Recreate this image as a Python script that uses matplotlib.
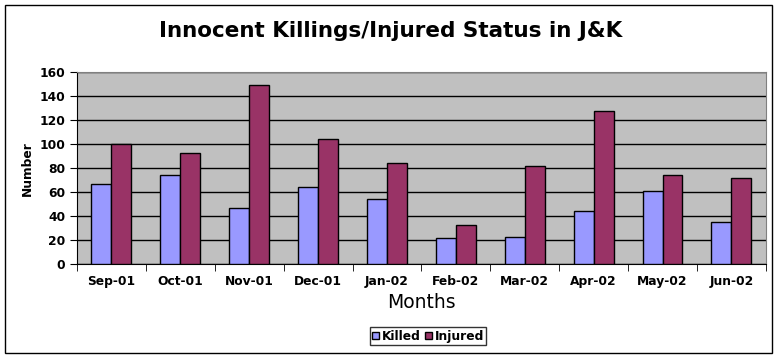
import numpy as np
import matplotlib.pyplot as plt
from matplotlib.patches import Rectangle

months = ["Sep-01", "Oct-01", "Nov-01", "Dec-01", "Jan-02",
          "Feb-02", "Mar-02", "Apr-02", "May-02", "Jun-02"]
killed = [67, 74, 47, 64, 54, 22, 23, 44, 61, 35]
injured = [100, 93, 149, 104, 84, 33, 82, 128, 74, 72]

plt.rcParams['font.family'] = 'DejaVu Sans'

fig = plt.figure(figsize=(7.81, 3.57), dpi=100)
fig.patches.append(Rectangle((0.007, 0.012), 0.982, 0.975, transform=fig.transFigure,
                             fill=False, edgecolor='black', linewidth=1))
ax = fig.add_axes([0.0986, 0.2597, 0.882, 0.5378])

x = np.arange(len(months))
w = 0.29
ax.bar(x - w / 2, killed, w, color='#9999FF', edgecolor='black', linewidth=1,
       label='Killed', zorder=3)
ax.bar(x + w / 2, injured, w, color='#993366', edgecolor='black', linewidth=1,
       label='Injured', zorder=3)

ax.set_facecolor('#C0C0C0')
ax.set_xlim(-0.5, len(months) - 0.5)
ax.set_ylim(0, 160)
ax.set_yticks(range(0, 161, 20))
ax.yaxis.grid(True, color='black', linewidth=1, zorder=0)
ax.set_axisbelow(True)

ax.set_xticks(x)
ax.set_xticklabels(months, fontsize=8.8, fontweight='bold')
ax.set_xticks(np.arange(-0.5, len(months)), minor=True)
ax.tick_params(axis='x', which='major', length=0, pad=8)
ax.tick_params(axis='x', which='minor', length=5, direction='out')
ax.tick_params(axis='y', length=5, direction='out', labelsize=8.8)
for lab in ax.get_yticklabels():
    lab.set_fontweight('bold')

for side in ['top', 'right']:
    ax.spines[side].set_color('#808080')
ax.spines['left'].set_color('black')
ax.spines['bottom'].set_color('black')

ax.set_xlabel('Months', fontsize=13.5, labelpad=3)
ax.set_ylabel('Number', fontsize=8.8, fontweight='bold', labelpad=4)
fig.suptitle('Innocent Killings/Injured Status in J&K', fontsize=15.5,
             fontweight='bold', y=0.94)

leg = fig.legend(loc='center', bbox_to_anchor=(0.548, 0.058), ncol=2,
                 frameon=True, fancybox=False, edgecolor='black',
                 prop={'size': 8.8, 'weight': 'bold'}, handlelength=0.55,
                 handleheight=0.55, handletextpad=0.25, columnspacing=0.35,
                 borderpad=0.2, borderaxespad=0)
leg.get_frame().set_linewidth(1)

fig.savefig('out.png', dpi=100)
